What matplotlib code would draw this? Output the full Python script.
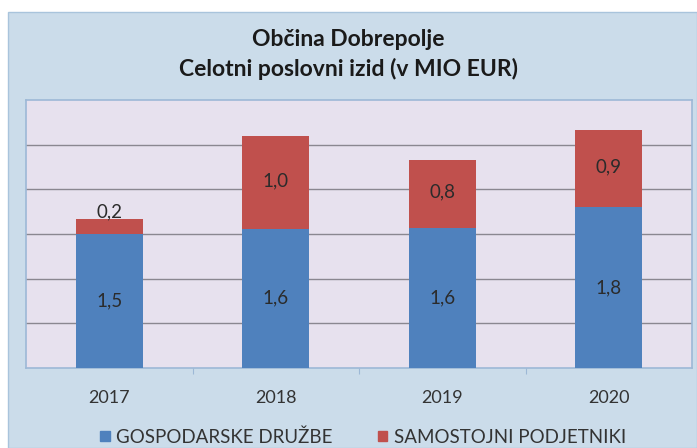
import matplotlib
matplotlib.use("Agg")
import matplotlib.pyplot as plt
from matplotlib.patches import Rectangle, Patch

# values (labels are rounded to one decimal)
years = ["2017", "2018", "2019", "2020"]
druzbe = [1.50, 1.56, 1.57, 1.80]
podjetniki = [0.17, 1.04, 0.76, 0.86]
series_names = ["GOSPODARSKE DRUŽBE", "SAMOSTOJNI PODJETNIKI"]

blue = "#4f81bd"
red = "#c0504d"
label_col = "#2b2b2b"

plt.rcParams["font.family"] = ["Lato", "DejaVu Sans"]

fig = plt.figure(figsize=(6.97, 4.48), dpi=100)
fig.patch.set_facecolor("white")
# outer chart area (light blue box with a small white margin at top/left)
fig.add_artist(Rectangle((8 / 697, 0), 1 - 8 / 697, 1 - 12 / 448,
                         transform=fig.transFigure, facecolor="#cbdcea",
                         edgecolor="#a9c4dc", linewidth=1, zorder=0))

ax = fig.add_axes([26 / 697, 80 / 448, 666 / 697, 268 / 448])
ax.set_facecolor("#e7e1ee")
for s in ax.spines.values():
    s.set_color("#9db8d6")
    s.set_linewidth(1.2)

x = range(len(years))
ax.bar(x, druzbe, width=0.4, color=blue, zorder=3)
ax.bar(x, podjetniki, width=0.4, bottom=druzbe, color=red, zorder=3)

ax.set_xlim(-0.5, 3.5)
ax.set_ylim(0, 3.0)
ax.set_yticks([0.5, 1.0, 1.5, 2.0, 2.5])
ax.yaxis.grid(True, color="#8a8790", linewidth=1.0, zorder=1)
ax.tick_params(axis="y", length=0, labelleft=False)
ax.set_xticks([0.5, 1.5, 2.5])
ax.tick_params(axis="x", length=4, color="#9db8d6", labelbottom=False)

def fmt(v):
    return f"{v:.1f}".replace(".", ",")

for i in x:
    ax.text(i, druzbe[i] / 2, fmt(druzbe[i]), ha="center", va="center",
            fontsize=13.5, color=label_col, zorder=4)
    if podjetniki[i] < 0.3:
        ax.text(i, druzbe[i] + podjetniki[i] - 0.02, fmt(podjetniki[i]), ha="center",
                va="bottom", fontsize=13.5, color=label_col, zorder=4)
    else:
        ax.text(i, druzbe[i] + podjetniki[i] / 2 + 0.02, fmt(podjetniki[i]),
                ha="center", va="center", fontsize=13.5, color=label_col, zorder=4)
    fig.text((26 + 166.5 * (i + 0.5)) / 697, 1 - 398 / 448, years[i],
             ha="center", va="center", fontsize=13, color="#333333")

fig.text(0.5, 1 - 40 / 448, "Občina Dobrepolje", ha="center", va="center",
         fontsize=16.5, fontweight="bold", color="#1a1a1a")
fig.text(0.5, 1 - 69 / 448, "Celotni poslovni izid (v MIO EUR)", ha="center",
         va="center", fontsize=16.5, fontweight="bold", color="#1a1a1a")

handles = [Patch(color=blue), Patch(color=red)]
fig.legend(handles, series_names, loc="center", bbox_to_anchor=(363 / 697, 1 - 437 / 448),
           ncol=2, frameon=False, fontsize=13.5, handlelength=0.5, handleheight=0.5,
           handletextpad=0.35, columnspacing=2.4, labelcolor="#333333")

fig.savefig("out.png", dpi=100)
